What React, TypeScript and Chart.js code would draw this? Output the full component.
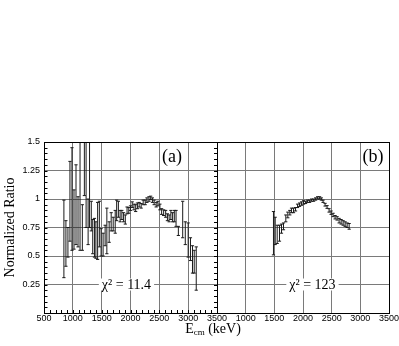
import React, { useEffect, useRef } from "react";
import { Chart, registerables } from "chart.js";

Chart.register(...registerables);

// ---- Data ----
const energiesA = [845, 880, 915, 950, 985, 1020, 1055, 1090, 1125, 1165, 1200, 1230, 1265, 1290, 1320, 1345, 1375, 1400, 1430, 1460, 1490, 1525, 1560, 1590, 1630, 1665, 1700, 1735, 1760, 1790, 1820, 1850, 1880, 1910, 1940, 1970, 2000, 2030, 2060, 2090, 2120, 2150, 2185, 2220, 2255, 2285, 2320, 2350, 2380, 2410, 2445, 2475, 2510, 2540, 2575, 2610, 2640, 2670, 2700, 2730, 2760, 2790, 2830, 2905, 2950, 3000, 3040, 3075, 3105, 3140];
const ratiosA = [0.65, 0.61, 0.62, 0.98, 1.0, 0.82, 0.95, 0.8, 1.1, 0.75, 1.3, 1.15, 0.8, 1.15, 0.85, 0.67, 0.66, 0.64, 0.72, 0.78, 0.62, 0.6, 0.68, 0.72, 0.71, 0.8, 0.78, 0.8, 0.9, 0.91, 0.85, 0.86, 0.84, 0.82, 0.9, 0.9, 0.92, 0.95, 0.93, 0.92, 0.94, 0.95, 0.94, 0.97, 0.97, 0.99, 1.0, 1.01, 0.99, 0.97, 0.95, 0.96, 0.93, 0.89, 0.88, 0.87, 0.84, 0.83, 0.86, 0.84, 0.85, 0.83, 0.72, 0.82, 0.7, 0.64, 0.56, 0.47, 0.45, 0.39];
const errorsA = [0.34, 0.2, 0.13, 0.35, 0.45, 0.26, 0.35, 0.22, 0.55, 0.2, 0.27, 0.4, 0.2, 0.4, 0.13, 0.15, 0.17, 0.16, 0.25, 0.2, 0.12, 0.1, 0.09, 0.2, 0.09, 0.08, 0.06, 0.1, 0.09, 0.07, 0.05, 0.04, 0.04, 0.04, 0.03, 0.025, 0.02, 0.025, 0.025, 0.03, 0.025, 0.02, 0.02, 0.02, 0.02, 0.02, 0.02, 0.015, 0.02, 0.02, 0.02, 0.02, 0.025, 0.025, 0.025, 0.03, 0.03, 0.03, 0.04, 0.04, 0.05, 0.07, 0.04, 0.16, 0.1, 0.15, 0.1, 0.12, 0.1, 0.19];

const energiesB = [1485, 1515, 1550, 1590, 1625, 1660, 1700, 1735, 1770, 1800, 1835, 1870, 1905, 1940, 1975, 2010, 2045, 2080, 2115, 2150, 2185, 2220, 2255, 2290, 2320, 2350, 2385, 2420, 2455, 2490, 2525, 2560, 2595, 2630, 2665, 2700, 2735, 2770, 2805];
const ratiosB = [0.7, 0.72, 0.69, 0.7, 0.74, 0.76, 0.83, 0.86, 0.88, 0.9, 0.9, 0.91, 0.94, 0.95, 0.96, 0.97, 0.97, 0.98, 0.98, 0.99, 0.99, 1.0, 1.01, 1.01, 1.0, 0.98, 0.95, 0.93, 0.9, 0.88, 0.86, 0.84, 0.83, 0.81, 0.8, 0.79, 0.78, 0.77, 0.76];
const errorsB = [0.19, 0.12, 0.08, 0.07, 0.04, 0.03, 0.03, 0.025, 0.02, 0.02, 0.02, 0.015, 0.015, 0.015, 0.015, 0.015, 0.01, 0.01, 0.01, 0.01, 0.01, 0.01, 0.01, 0.01, 0.01, 0.01, 0.012, 0.012, 0.015, 0.015, 0.015, 0.015, 0.015, 0.02, 0.02, 0.02, 0.02, 0.02, 0.025];

const xTickValues = [500, 1000, 1500, 2000, 2500, 3000, 3500];
const yTickValues = [0.25, 0.5, 0.75, 1, 1.25, 1.5];
const panelLabels = ["(a)", "(b)"];
const chiLabels = ["χ² = 11.4", "χ² = 123"];
const yAxisTitle = "Normalized Ratio";

// ---- Styling ----
const INK = "#1a1a1a";
const GRID = "#7a7a7a";
const SANS = '"Liberation Sans", Arial, sans-serif';
const SERIF = '"Liberation Serif", "Times New Roman", serif';

function errorDatasets(xs: number[], ys: number[], es: number[]) {
  const stems: any[] = [];
  const caps: any[] = [];
  xs.forEach((x, i) => {
    stems.push({ x, y: ys[i] - es[i] }, { x, y: ys[i] + es[i] }, { x, y: null });
    caps.push({ x, y: ys[i] - es[i] }, { x, y: ys[i] + es[i] });
  });
  return [
    {
      data: stems,
      showLine: true,
      spanGaps: false,
      borderColor: INK,
      borderWidth: 1,
      pointRadius: 0,
    },
    {
      data: caps,
      showLine: false,
      pointStyle: "line",
      pointRadius: 1.6,
      pointBorderColor: INK,
      pointBorderWidth: 1,
      borderColor: INK,
    },
  ];
}

const decorPlugin = {
  id: "decor",
  afterDatasetsDraw(chart: any, _args: any, opts: any) {
    const { ctx, chartArea: a, scales } = chart;
    const x = scales.x;
    const y = scales.y;
    ctx.save();
    ctx.strokeStyle = "#000";
    ctx.lineWidth = 1;
    if (opts.minorTicks) {
      ctx.beginPath();
      for (let k = 1; k * 0.05 < 1.5 - 1e-9; k++) {
        const py = Math.round(y.getPixelForValue(k * 0.05)) + 0.5;
        ctx.moveTo(a.left, py);
        ctx.lineTo(a.left + 3.5, py);
        ctx.moveTo(a.right + 1, py);
        ctx.lineTo(a.right - 3, py);
      }
      for (let v = 600; v < 3500; v += 100) {
        const px = Math.round(x.getPixelForValue(v)) + 0.5;
        ctx.moveTo(px, a.bottom);
        ctx.lineTo(px, a.bottom - 3);
      }
      ctx.stroke();
    }
    if (opts.chi) {
      ctx.font = `14px ${SERIF}`;
      ctx.textAlign = "center";
      ctx.textBaseline = "middle";
      const cx = x.getPixelForValue(opts.chiAt[0]);
      const cy = y.getPixelForValue(opts.chiAt[1]);
      const w = ctx.measureText(opts.chi).width;
      ctx.fillStyle = "#fff";
      ctx.fillRect(cx - w / 2 - 3, cy - 6, w + 6, 12);
      ctx.fillStyle = "#000";
      ctx.fillText(opts.chi, cx, cy + 1);
    }
    if (opts.label) {
      ctx.font = `18px ${SERIF}`;
      ctx.textAlign = "center";
      ctx.textBaseline = "middle";
      ctx.fillStyle = "#000";
      ctx.fillText(opts.label, x.getPixelForValue(opts.labelAt[0]), y.getPixelForValue(opts.labelAt[1]));
    }
    ctx.strokeRect(a.left + 0.5, a.top + 0.5, a.right - a.left, a.bottom - a.top);
    ctx.restore();
  },
};

function makeConfig(which: 0 | 1): any {
  const left = which === 0;
  const ds = left ? errorDatasets(energiesA, ratiosA, errorsA) : errorDatasets(energiesB, ratiosB, errorsB);
  return {
    type: "scatter",
    data: { datasets: ds },
    plugins: [decorPlugin],
    options: {
      animation: false,
      responsive: false,
      maintainAspectRatio: false,
      events: [],
      layout: { padding: { top: 142, right: 16, left: 0, bottom: 0 } },
      plugins: {
        legend: { display: false },
        tooltip: { enabled: false },
        decor: {
          minorTicks: left,
          chi: chiLabels[which],
          chiAt: left ? [1930, 0.25] : [2165, 0.25],
          label: panelLabels[which],
          labelAt: left ? [2720, 1.37] : [3220, 1.37],
        },
      },
      scales: {
        x: {
          type: "linear",
          min: 500,
          max: 3500,
          afterBuildTicks: (s: any) => {
            s.ticks = xTickValues.map((v) => ({ value: v }));
          },
          afterFit: (s: any) => {
            s.height = 33;
          },
          grid: { color: GRID, lineWidth: 1, drawTicks: false },
          border: { display: true, color: "#000", width: 1 },
          ticks: {
            padding: 0,
            maxRotation: 0,
            autoSkip: false,
            color: "#000",
            font: { family: SANS, size: 9 },
            callback: (v: number) => (!left && v === 500 ? "" : String(v)),
          },
        },
        y: {
          type: "linear",
          min: 0,
          max: 1.5,
          afterBuildTicks: (s: any) => {
            s.ticks = [0, ...yTickValues].map((v) => ({ value: v }));
          },
          afterFit: (s: any) => {
            s.width = left ? 44 : 8;
          },
          grid: { color: GRID, lineWidth: 1, drawTicks: false },
          border: { display: true, color: "#000", width: 1 },
          ticks: {
            display: left,
            padding: 4,
            color: "#000",
            font: { family: SANS, size: 9 },
            callback: (v: number) => (v === 0 ? "" : String(v)),
          },
          title: {
            display: left,
            text: yAxisTitle,
            color: "#000",
            font: { family: SERIF, size: 14 },
            padding: { top: 2, bottom: 0 },
          },
        },
      },
    },
  };
}

function Panel({ which, left, width }: { which: 0 | 1; left: number; width: number }) {
  const ref = useRef<HTMLCanvasElement | null>(null);
  useEffect(() => {
    if (!ref.current) return;
    const chart = new Chart(ref.current, makeConfig(which));
    return () => chart.destroy();
  }, [which]);
  return (
    <canvas
      ref={ref}
      width={width}
      height={346}
      style={{ position: "absolute", left, top: 0, width, height: 346 }}
    />
  );
}

export default function App() {
  return (
    <div
      style={{
        position: "absolute",
        left: 0,
        top: 0,
        width: 399,
        height: 346,
        overflow: "hidden",
        background: "#fff",
      }}
    >
      <Panel which={0} left={0} width={233} />
      <Panel which={1} left={209} width={196} />
      <div
        style={{
          position: "absolute",
          left: 213,
          top: 321,
          transform: "translateX(-50%)",
          fontFamily: SERIF,
          fontSize: 14,
          lineHeight: "16px",
          whiteSpace: "nowrap",
          color: "#000",
        }}
      >
        E<span style={{ fontSize: 9, position: "relative", top: 2 }}>cm</span> (keV)
      </div>
    </div>
  );
}
